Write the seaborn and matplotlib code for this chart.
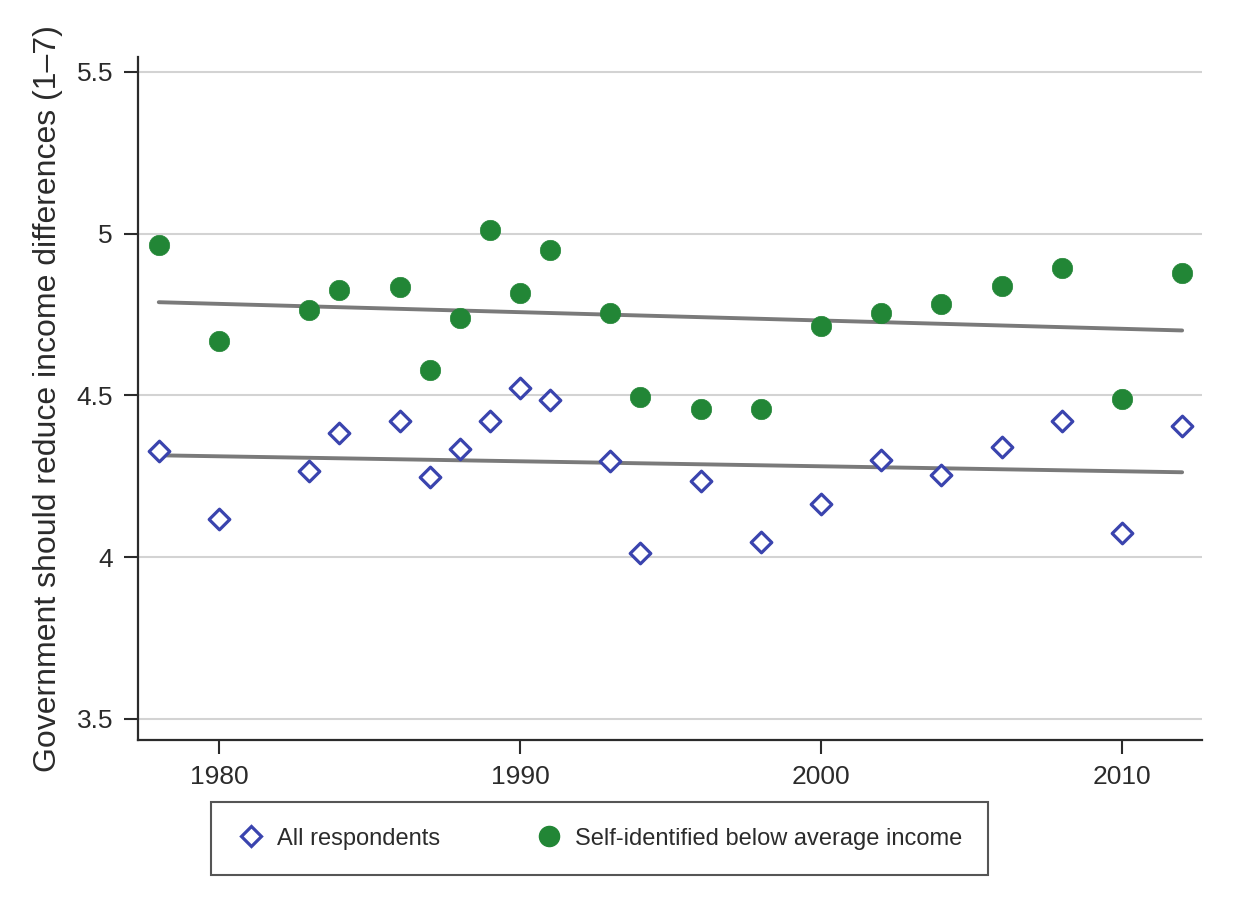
import seaborn as sns
import matplotlib.pyplot as plt
import pandas as pd
import numpy as np
from matplotlib.lines import Line2D

# Datos
years = [1978, 1980, 1983, 1984, 1986, 1987, 1988, 1989, 1990, 1991, 1993,
         1994, 1996, 1998, 2000, 2002, 2004, 2006, 2008, 2010, 2012]
all_resp = [4.328, 4.118, 4.267, 4.384, 4.421, 4.248, 4.335, 4.421, 4.523, 4.486, 4.298,
            4.013, 4.236, 4.047, 4.165, 4.301, 4.254, 4.341, 4.421, 4.075, 4.406]
below_avg = [4.965, 4.668, 4.764, 4.826, 4.835, 4.579, 4.740, 5.012, 4.817, 4.950, 4.755,
             4.495, 4.458, 4.458, 4.715, 4.755, 4.783, 4.838, 4.894, 4.489, 4.879]

df = pd.DataFrame({"year": years, "all": all_resp, "below": below_avg})

sns.set_style("white")
plt.rcParams['font.family'] = ['Liberation Sans', 'DejaVu Sans']

blue = "#3A44AE"
green = "#228636"
gray_line = "#7a7a7a"
dark = "#2b2b2b"

fig = plt.figure(figsize=(12.47, 9), dpi=100)
ax = fig.add_axes([138/1247, 1 - 740/900, (1202 - 138)/1247, (740 - 57)/900])

for yv in [3.5, 4, 4.5, 5, 5.5]:
    ax.axhline(yv, color="#d3d3d3", linewidth=1.5, zorder=0)

# líneas de tendencia
sns.regplot(data=df, x="year", y="below", scatter=False, ci=None, ax=ax,
            line_kws={"color": gray_line, "linewidth": 2.8, "zorder": 2})
sns.regplot(data=df, x="year", y="all", scatter=False, ci=None, ax=ax,
            line_kws={"color": gray_line, "linewidth": 2.8, "zorder": 2})

sns.scatterplot(data=df, x="year", y="all", marker="D", s=110, facecolor="white",
                edgecolor=blue, linewidth=2.3, ax=ax, zorder=3)
sns.scatterplot(data=df, x="year", y="below", marker="o", s=215, color=green,
                edgecolor=green, linewidth=0.5, ax=ax, zorder=3)

ax.set_xlim(1977.31, 2012.66)
ax.set_ylim(3.435, 5.546)
ax.set_xticks([1980, 1990, 2000, 2010])
ax.set_yticks([3.5, 4, 4.5, 5, 5.5])
ax.set_yticklabels(["3.5", "4", "4.5", "5", "5.5"])
ax.set_xlabel("")
ax.set_ylabel("Government should reduce income differences (1–7)", fontsize=23,
              color=dark, labelpad=10)
ax.tick_params(axis="both", labelsize=19, colors=dark, length=10, width=1.5,
               direction="out", left=True, bottom=True, pad=8)
sns.despine(ax=ax)
for side in ["left", "bottom"]:
    ax.spines[side].set_color(dark)
    ax.spines[side].set_linewidth(1.6)

handles = [
    Line2D([], [], linestyle="none", marker="D", markersize=10.5, markerfacecolor="white",
           markeredgecolor=blue, markeredgewidth=2.3, label="All respondents"),
    Line2D([], [], linestyle="none", marker="o", markersize=14.5, markerfacecolor=green,
           markeredgecolor=green, label="Self-identified below average income"),
]
leg = fig.legend(handles=handles, ncol=2, loc="center",
                 bbox_to_anchor=(599.5/1247, 1 - 838.5/900),
                 fontsize=17, frameon=True, fancybox=False, edgecolor=dark,
                 handletextpad=0.5, columnspacing=4.0, borderpad=1.1,
                 borderaxespad=0, handlelength=1.2)
leg.get_frame().set_linewidth(1.5)
for t in leg.get_texts():
    t.set_color(dark)

plt.savefig("out.png", dpi=100, facecolor="white")
